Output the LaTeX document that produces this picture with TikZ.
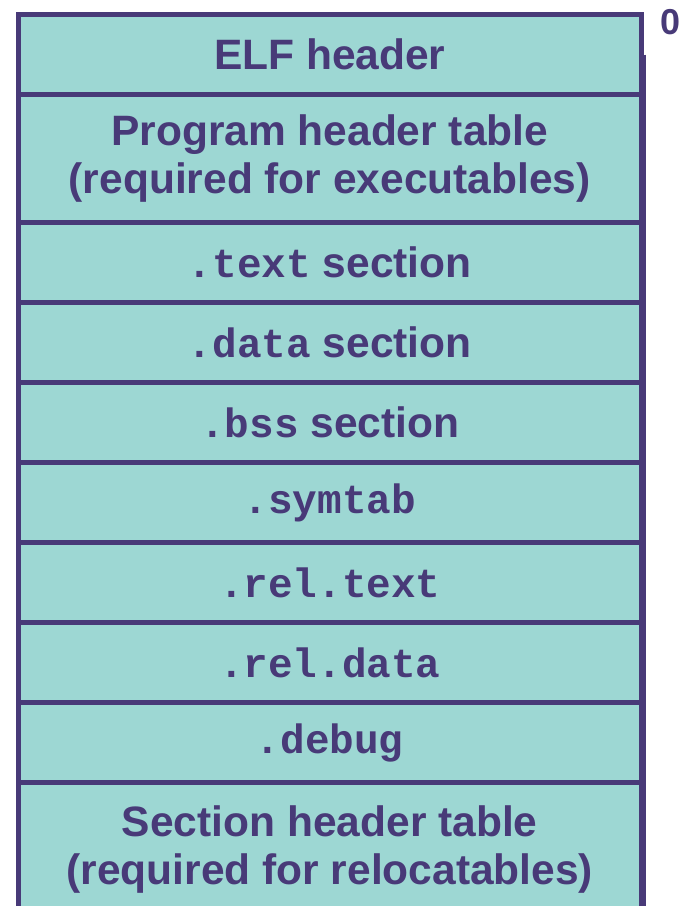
\documentclass[tikz,border=0pt]{standalone}
\usepackage{fontspec}
\setmainfont{Liberation Sans}
\setmonofont{Liberation Mono}
\usetikzlibrary{positioning}

\definecolor{elfline}{HTML}{483A78}
\definecolor{elffill}{HTML}{9DD7D3}

\newcommand{\sectcode}[1]{{\fontsize{41}{48}\selectfont\ttfamily\bfseries #1}}

\tikzset{
  sect/.style={draw=elfline, fill=elffill, line width=5pt, minimum width=622.5pt,
    minimum height=80pt, inner sep=0pt, outer sep=0pt, text=elfline, align=center,
    font=\fontsize{42.5}{48}\selectfont\bfseries},
  offs/.style={text=elfline, inner sep=0pt, font=\fontsize{36}{40}\selectfont\bfseries}
}

\begin{document}
\begin{tikzpicture}[x=1pt,y=-1pt]
  \useasboundingbox (0,0) rectangle (683,906);

  % sections of the object file, top to bottom
  \node[sect, anchor=north west] (elf) at (18.5,14.5) {ELF header};
  \node[sect, minimum height=128pt, below=0pt of elf] (pht) {Program header table\\(required for executables)};
  \node[sect, below=0pt of pht] (text) {\sectcode{.text} section};
  \node[sect, below=0pt of text] (data) {\sectcode{.data} section};
  \node[sect, below=0pt of data] (bss) {\sectcode{.bss} section};
  \node[sect, below=0pt of bss] (symtab) {\sectcode{.symtab}};
  \node[sect, below=0pt of symtab] (reltext) {\sectcode{.rel.text}};
  \node[sect, below=0pt of reltext] (reldata) {\sectcode{.rel.data}};
  \node[sect, below=0pt of reldata] (debug) {\sectcode{.debug}};
  \node[sect, minimum height=135pt, below=0pt of debug] (sht) {Section header table\\(required for relocatables)};

  % shadow on the right side
  \draw[elfline, line width=3pt] ([xshift=3.5pt]elf.east) -- ([xshift=3.5pt]sht.south east);

  % offset
  \node[offs, anchor=north west] (zero) at (660,9) {0};
\end{tikzpicture}
\end{document}
